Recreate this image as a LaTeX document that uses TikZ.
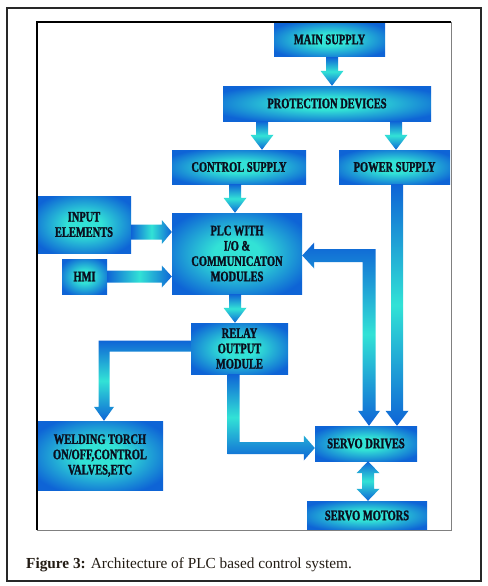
\documentclass[tikz,border=0pt]{standalone}
\usepackage{fontspec}
\setmainfont{Liberation Serif}
\newfontfamily\boxfont[FakeStretch=0.72, BoldFeatures={FakeBold=1.5}]{Liberation Serif}
\usetikzlibrary{calc}
\definecolor{bblue}{RGB}{14,100,214}
\definecolor{bcyan}{RGB}{50,226,214}
\definecolor{txt}{RGB}{10,14,30}
\definecolor{framegray}{RGB}{40,40,40}
\pgfdeclareradialshading{boxrad}{\pgfpoint{0bp}{0bp}}{%
  color(0bp)=(bcyan); color(9bp)=(bcyan); color(30bp)=(bblue); color(50bp)=(bblue)}
\tikzset{
  blk/.style={rectangle, inner sep=0pt, shading=boxrad,
    text=txt, font=\boxfont\bfseries\fontsize{14.5}{15.3}\selectfont, align=center},
  vshade/.style={top color=bblue, bottom color=bblue, middle color=bcyan},
  hshade/.style={left color=bblue, right color=bblue, middle color=bcyan},
}
% down arrow: start y from #1, tip (x,y) at #2
\newcommand\vdarrow[2]{%
  \shade[vshade] let \p1=(#1), \p2=(#2) in
    (\x2-6pt,\y1) -- (\x2-6pt,\y2+15pt) -- (\x2-11.5pt,\y2+15pt) -- (\x2,\y2)
    -- (\x2+11.5pt,\y2+15pt) -- (\x2+6pt,\y2+15pt) -- (\x2+6pt,\y1) -- cycle;}
% right arrow: y and start x from #1, tip x from #2; #3 half shaft, #4 half head
\newcommand\hrarrow[4]{%
  \shade[hshade] let \p1=(#1), \p2=(#2) in
    (\x1,\y1+#3) -- (\x2-10pt,\y1+#3) -- (\x2-10pt,\y1+#4) -- (\x2,\y1)
    -- (\x2-10pt,\y1-#4) -- (\x2-10pt,\y1-#3) -- (\x1,\y1-#3) -- cycle;}
\begin{document}
\begin{tikzpicture}[x=1pt,y=-1pt]
\useasboundingbox (0,0) rectangle (487,586);
\fill[white] (0,0) rectangle (487,586);

% boxes
\node[blk, minimum width=111pt, minimum height=35pt] (main) at (329.5,39.5) {MAIN SUPPLY};
\node[blk, minimum width=208pt, minimum height=35pt] (prot) at (327,103.5) {PROTECTION DEVICES};
\node[blk, minimum width=134pt, minimum height=34pt] (ctrl) at (239,167) {CONTROL SUPPLY};
\node[blk, minimum width=111pt, minimum height=34pt] (power) at (394.5,167) {POWER SUPPLY};
\node[blk, minimum width=94pt, minimum height=57pt] (input) at (84,224.5) {INPUT\\ELEMENTS};
\node[blk, minimum width=45pt, minimum height=35pt] (hmi) at (84.5,276.5) {HMI};
\node[blk, minimum width=130pt, minimum height=81pt] (plc) at (237,253.5) {PLC WITH\\I/O \&\\COMMUNICATON\\MODULES};
\node[blk, minimum width=97pt, minimum height=51pt] (relay) at (239.5,348.5) {RELAY\\OUTPUT\\MODULE};
\node[blk, minimum width=126pt, minimum height=69pt] (weld) at (100,455.5) {WELDING TORCH\\ON/OFF,CONTROL\\VALVES,ETC};
\node[blk, minimum width=102pt, minimum height=35pt] (drives) at (366,443.5) {SERVO DRIVES};
\node[blk, minimum width=120pt, minimum height=29pt] (motors) at (367,515.5) {SERVO MOTORS};

% straight arrows
\vdarrow{main.south}{[xshift=5pt]prot.north}
\vdarrow{[xshift=-65pt]prot.south}{[xshift=23pt]ctrl.north}
\vdarrow{prot.south}{[xshift=1.5pt]power.north}
\vdarrow{ctrl.south}{[xshift=-2pt]plc.north}
\vdarrow{plc.south}{[xshift=-4.5pt]relay.north}
\vdarrow{power.south}{[xshift=31pt]drives.north}
\hrarrow{[yshift=-7.5pt]input.east}{plc.west}{7.5pt}{12pt}
\hrarrow{hmi.east}{plc.west}{6pt}{11pt}

% relay -> welding (left then down)
\shade[vshade] let \p1=([yshift=2.5pt]relay.west), \p2=([xshift=4pt]weld.north) in
  (\x1,\y1+5.5pt) -- (\x2-5.5pt,\y1+5.5pt) -- (\x2-5.5pt,\y2+14pt) -- (\x2-10pt,\y2+14pt)
  -- (\x2,\y2) -- (\x2+10pt,\y2+14pt) -- (\x2+5.5pt,\y2+14pt) -- (\x2+5.5pt,\y1-5.5pt)
  -- (\x1,\y1-5.5pt) -- cycle;

% relay -> drives (down then right)
\shade[vshade] let \p1=([xshift=-6pt]relay.south), \p2=([yshift=-4.5pt]drives.west) in
  (\x1-6pt,\y1) -- (\x1-6pt,\y2-6pt) -- (\x2-11pt,\y2-6pt) -- (\x2-11pt,\y2-12.5pt)
  -- (\x2,\y2) -- (\x2-11pt,\y2+12.5pt) -- (\x2-11pt,\y2+6pt) -- (\x1+6pt,\y2+6pt)
  -- (\x1+6pt,\y1) -- cycle;

% plc <-> drives (double, elbow)
\shade[vshade] let \p1=([yshift=-2pt]plc.east), \p2=([xshift=3pt]drives.north) in
  (\x1,\y1) -- (\x1+12pt,\y1+13pt) -- (\x1+12pt,\y1+6.5pt) -- (\x2+6.5pt,\y1+6.5pt)
  -- (\x2+6.5pt,\y2+15pt) -- (\x2+11pt,\y2+15pt) -- (\x2,\y2) -- (\x2-11pt,\y2+15pt)
  -- (\x2-6.5pt,\y2+15pt) -- (\x2-6.5pt,\y1-6.5pt) -- (\x1+12pt,\y1-6.5pt)
  -- (\x1+12pt,\y1-13pt) -- cycle;

% drives <-> motors (double vertical)
\shade[vshade] let \p1=([xshift=2pt]drives.south), \p2=(motors.north) in
  (\x1,\y1) -- (\x1+11.5pt,\y1-12pt) -- (\x1+6pt,\y1-12pt) -- (\x1+6pt,\y2+12pt)
  -- (\x1+11.5pt,\y2+12pt) -- (\x1,\y2) -- (\x1-11.5pt,\y2+12pt) -- (\x1-6pt,\y2+12pt)
  -- (\x1-6pt,\y1-12pt) -- (\x1-11.5pt,\y1-12pt) -- cycle;

% frames
\draw[line width=0.8pt, gray] (451,22) -- (451,530) -- (37,530);
\draw[line width=1.6pt, black] (37,530) -- (37,22) -- (451,22);
\draw[line width=1.2pt, framegray] (7,8) rectangle (481,581);

% caption
\node[anchor=base west, inner sep=0pt, text={rgb,255:red,35;green,28;blue,20},
  font=\fontsize{15.3}{17}\selectfont] (cap) at (26,568)
  {\textbf{Figure 3:} Architecture of PLC based control system.};
\end{tikzpicture}
\end{document}
